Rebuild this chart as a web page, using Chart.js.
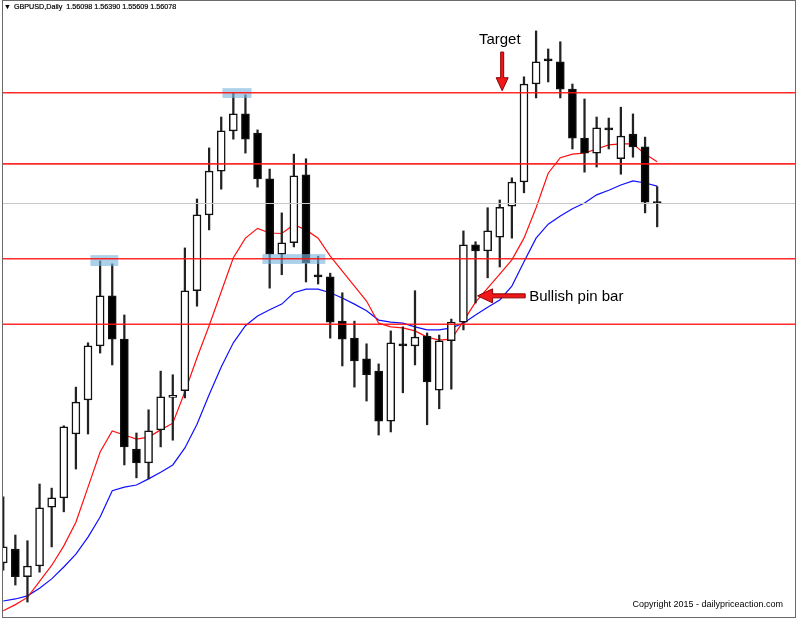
<!DOCTYPE html>
<html lang="en">

<head>
  <meta charset="UTF-8" />
  <title>GBPUSD Daily</title>
  <script src="https://cdn.jsdelivr.net/npm/chart.js"></script>
  <style>
    body { margin: 0; background: #fff; }
    #wrap { position: relative; width: 800px; height: 621px; }
    #head {
      position: absolute; left: 4px; top: 2px;
      font: 7.2px "Liberation Sans", Arial, sans-serif; color: #000;
      white-space: pre; -webkit-text-stroke: 0.2px #000;
    }
    #head .tri { font-size: 7px; margin-right: 3px; }
    #copy {
      position: absolute; right: 17px; top: 599px;
      font: 9px "Liberation Sans", Arial, sans-serif; color: #000;
    }
  </style>
</head>

<body>
  <div id="wrap">
    <canvas id="myChart"></canvas>
    <div id="head"><span class="tri">&#9660;</span>GBPUSD,Daily  1.56098 1.56390 1.55609 1.56078</div>
    <div id="copy">Copyright 2015 - dailypriceaction.com</div>
  </div>

  <script>
    /* daily bars */
    const opens = [1.4909, 1.4936, 1.4882, 1.4903, 1.5017, 1.5035, 1.5159, 1.5225, 1.5330, 1.5427,
      1.5343, 1.5130, 1.5103, 1.5167, 1.5230, 1.5243, 1.5437, 1.5584, 1.5669, 1.5747,
      1.5780, 1.5743, 1.5654, 1.5508, 1.5530, 1.5662, 1.5468, 1.5464, 1.5378, 1.5345,
      1.5305, 1.5281, 1.5184, 1.5334, 1.5330, 1.5349, 1.5244, 1.5340, 1.5376, 1.5526,
      1.5514, 1.5541, 1.5601, 1.5648, 1.5838, 1.5887, 1.5881, 1.5828, 1.5733, 1.5704,
      1.5753, 1.5693, 1.5741, 1.5716, 1.56098];
    const highs = [1.5037, 1.4963, 1.4952, 1.5062, 1.5054, 1.5175, 1.5250, 1.5336, 1.5495, 1.5489,
      1.5390, 1.5161, 1.5206, 1.5281, 1.5274, 1.5520, 1.5615, 1.5714, 1.5774, 1.5821,
      1.5817, 1.5749, 1.5673, 1.5588, 1.5702, 1.5693, 1.5504, 1.5471, 1.5433, 1.5378,
      1.5334, 1.5295, 1.5359, 1.5367, 1.5437, 1.5355, 1.5351, 1.5382, 1.5553, 1.5532,
      1.5598, 1.5613, 1.5656, 1.5852, 1.5941, 1.5906, 1.5920, 1.5838, 1.5809, 1.5774,
      1.5772, 1.5793, 1.5780, 1.5735, 1.56390];
    const lows = [1.4895, 1.4866, 1.4833, 1.4891, 1.4940, 1.5008, 1.5091, 1.5159, 1.5316, 1.5293,
      1.5099, 1.5074, 1.5072, 1.5134, 1.5147, 1.5229, 1.5407, 1.5555, 1.5634, 1.5731,
      1.5704, 1.5638, 1.5442, 1.5468, 1.5522, 1.5454, 1.5450, 1.5345, 1.5291, 1.5250,
      1.5223, 1.5157, 1.5163, 1.5239, 1.5293, 1.5177, 1.5208, 1.5246, 1.5361, 1.5413,
      1.5462, 1.5483, 1.5539, 1.5627, 1.5811, 1.5842, 1.5811, 1.5712, 1.5667, 1.5677,
      1.5712, 1.5663, 1.5696, 1.5588, 1.55609];
    const closes = [1.4940, 1.4882, 1.4903, 1.5016, 1.5035, 1.5173, 1.5221, 1.5330, 1.5427, 1.5343,
      1.5134, 1.5103, 1.5165, 1.5231, 1.5234, 1.5437, 1.5584, 1.5669, 1.5747, 1.5780,
      1.5731, 1.5654, 1.5508, 1.5530, 1.5660, 1.5491, 1.5464, 1.5376, 1.5343, 1.5301,
      1.5274, 1.5184, 1.5336, 1.5330, 1.5347, 1.5260, 1.5340, 1.5376, 1.5526, 1.5514,
      1.5553, 1.5599, 1.5648, 1.5838, 1.5881, 1.5883, 1.5828, 1.5733, 1.5704, 1.5753,
      1.5749, 1.5737, 1.5716, 1.5609, 1.56078];

    // moving averages (red = fast, blue = slow)
    const maFast = [1.4816, 1.4828, 1.4842, 1.4873, 1.4904, 1.4942, 1.4988, 1.5056, 1.5124, 1.5165,
      1.5157, 1.5149, 1.5153, 1.5167, 1.5180, 1.5241, 1.5307, 1.5369, 1.5435, 1.5501,
      1.5539, 1.5558, 1.5549, 1.5548, 1.5565, 1.5555, 1.5539, 1.5504, 1.5475, 1.5446,
      1.5417, 1.5374, 1.5367, 1.5365, 1.5359, 1.5347, 1.5341, 1.5343, 1.5378, 1.5415,
      1.5442, 1.5469, 1.5497, 1.5539, 1.5598, 1.5665, 1.5695, 1.5702, 1.5704, 1.5712,
      1.5720, 1.5722, 1.5722, 1.5702, 1.5687];
    const maSlow = [1.4835, 1.4839, 1.4845, 1.4860, 1.4878, 1.4901, 1.4926, 1.4959, 1.4998, 1.5049,
      1.5056, 1.5060, 1.5072, 1.5085, 1.5099, 1.5132, 1.5178, 1.5235, 1.5289, 1.5336,
      1.5369, 1.5388, 1.5400, 1.5411, 1.5433, 1.5440, 1.5440, 1.5433, 1.5423, 1.5411,
      1.5398, 1.5380, 1.5376, 1.5374, 1.5367, 1.5361, 1.5361, 1.5365, 1.5374, 1.5390,
      1.5405, 1.5419, 1.5446, 1.5493, 1.5539, 1.5566, 1.5582, 1.5596, 1.5607, 1.5623,
      1.5632, 1.5642, 1.5650, 1.5646, 1.5640];

    // horizontal levels
    const redLevels = [1.5821, 1.5683, 1.5499, 1.5372];
    const bidLevel = 1.56078;

    // highlighted zones (bar index range, price range)
    const zoneFrom = [7.2, 18.1, 21.4];
    const zoneTo = [9.5, 20.5, 26.6];
    const zoneTop = [1.5506, 1.5830, 1.5508];
    const zoneBottom = [1.5485, 1.5811, 1.5489];

    // notes
    const targetBar = 41.2, targetFrom = 1.5900, targetTo = 1.5825, targetText = 1.5923;
    const pinFrom = 43.1, pinTo = 39.17, pinPrice = 1.5427;

    const idx = opens.map((_, i) => i);
    const wicks = idx.map((i) => ({ x: i, y: [lows[i], highs[i]] }));
    const bodies = idx.map((i) => ({ x: i, y: [opens[i], closes[i]] }));
    const bodyFill = idx.map((i) => (closes[i] < opens[i] ? "#000" : "#fff"));

    /* levels, zones, arrows and frame */
    const overlay = {
      id: "overlay",
      afterDatasetsDraw(chart) {
        const { ctx, chartArea: a, scales: { x, y } } = chart;
        ctx.save();

        // blue zones
        ctx.fillStyle = "rgba(120,180,222,0.62)";
        zoneFrom.forEach((f, i) => {
          const x0 = x.getPixelForValue(f), x1 = x.getPixelForValue(zoneTo[i]);
          const y0 = y.getPixelForValue(zoneTop[i]), y1 = y.getPixelForValue(zoneBottom[i]);
          ctx.fillRect(x0, y0, x1 - x0, y1 - y0);
        });

        // bid line
        ctx.strokeStyle = "#c8c8c8";
        ctx.lineWidth = 1;
        let py = Math.round(y.getPixelForValue(bidLevel)) + 0.5;
        ctx.beginPath(); ctx.moveTo(a.left, py); ctx.lineTo(a.right, py); ctx.stroke();

        // red levels
        ctx.strokeStyle = "rgba(255,20,20,0.9)";
        ctx.lineWidth = 1.6;
        redLevels.forEach((v) => {
          const p = y.getPixelForValue(v);
          ctx.beginPath(); ctx.moveTo(a.left, p); ctx.lineTo(a.right, p); ctx.stroke();
        });

        // Target arrow (down)
        ctx.fillStyle = "#f01818";
        ctx.strokeStyle = "#8a0000";
        ctx.lineWidth = 1;
        let cx = x.getPixelForValue(targetBar);
        let y0 = y.getPixelForValue(targetFrom), y1 = y.getPixelForValue(targetTo);
        ctx.beginPath();
        ctx.moveTo(cx - 1.5, y0); ctx.lineTo(cx + 1.5, y0);
        ctx.lineTo(cx + 1.5, y1 - 13); ctx.lineTo(cx + 6, y1 - 13);
        ctx.lineTo(cx, y1); ctx.lineTo(cx - 6, y1 - 13);
        ctx.lineTo(cx - 1.5, y1 - 13); ctx.closePath();
        ctx.fill(); ctx.stroke();

        // pin bar arrow (left)
        let x0 = x.getPixelForValue(pinFrom), x1 = x.getPixelForValue(pinTo);
        let cy = y.getPixelForValue(pinPrice);
        ctx.beginPath();
        ctx.moveTo(x0, cy - 2); ctx.lineTo(x1 + 15, cy - 2);
        ctx.lineTo(x1 + 15, cy - 7); ctx.lineTo(x1, cy);
        ctx.lineTo(x1 + 15, cy + 7); ctx.lineTo(x1 + 15, cy + 2);
        ctx.lineTo(x0, cy + 2); ctx.closePath();
        ctx.fill(); ctx.stroke();

        // labels
        ctx.fillStyle = "#000";
        ctx.font = '15px "Liberation Sans", Arial, sans-serif';
        ctx.textBaseline = "middle";
        ctx.textAlign = "center";
        ctx.fillText("Target", x.getPixelForValue(41.0), y.getPixelForValue(targetText));
        ctx.textAlign = "left";
        ctx.fillText("Bullish pin bar", x0 + 4, cy + 1);

        // frame
        ctx.strokeStyle = "#6a6a6a";
        ctx.lineWidth = 1;
        ctx.strokeRect(a.left - 0.5, a.top + 0.5, a.right - a.left + 1, a.bottom - a.top);
        ctx.restore();
      },
    };

    var ctx = document.getElementById("myChart").getContext("2d");
    var chart = new Chart(ctx, {
      type: "bar",
      data: {
        datasets: [
          {
            type: "line",
            label: "MA slow",
            data: idx.map((i) => ({ x: i, y: maSlow[i] })),
            borderColor: "#1010ff",
            borderWidth: 1.2,
            pointRadius: 0,
            tension: 0,
            order: 5,
          },
          {
            type: "line",
            label: "MA fast",
            data: idx.map((i) => ({ x: i, y: maFast[i] })),
            borderColor: "#ff1010",
            borderWidth: 1.2,
            pointRadius: 0,
            tension: 0,
            order: 4,
          },
          {
            label: "wick",
            data: wicks,
            backgroundColor: "#222",
            barThickness: 1.6,
            grouped: false,
            order: 2,
          },
          {
            label: "body",
            data: bodies,
            backgroundColor: bodyFill,
            borderColor: "#111",
            borderWidth: 1.5,
            borderSkipped: false,
            barThickness: 8,
            grouped: false,
            order: 1,
          },
        ],
      },
      options: {
        responsive: true,
        maintainAspectRatio: false,
        animation: false,
        layout: { padding: { left: 3, right: 5, top: 0, bottom: 4 } },
        plugins: { legend: { display: false }, tooltip: { enabled: false } },
        scales: {
          x: { type: "linear", min: -0.02, max: 65.38, offset: false, display: false },
          y: { min: 1.4804, max: 1.6001, display: false },
        },
      },
      plugins: [overlay],
    });
  </script>
</body>

</html>
